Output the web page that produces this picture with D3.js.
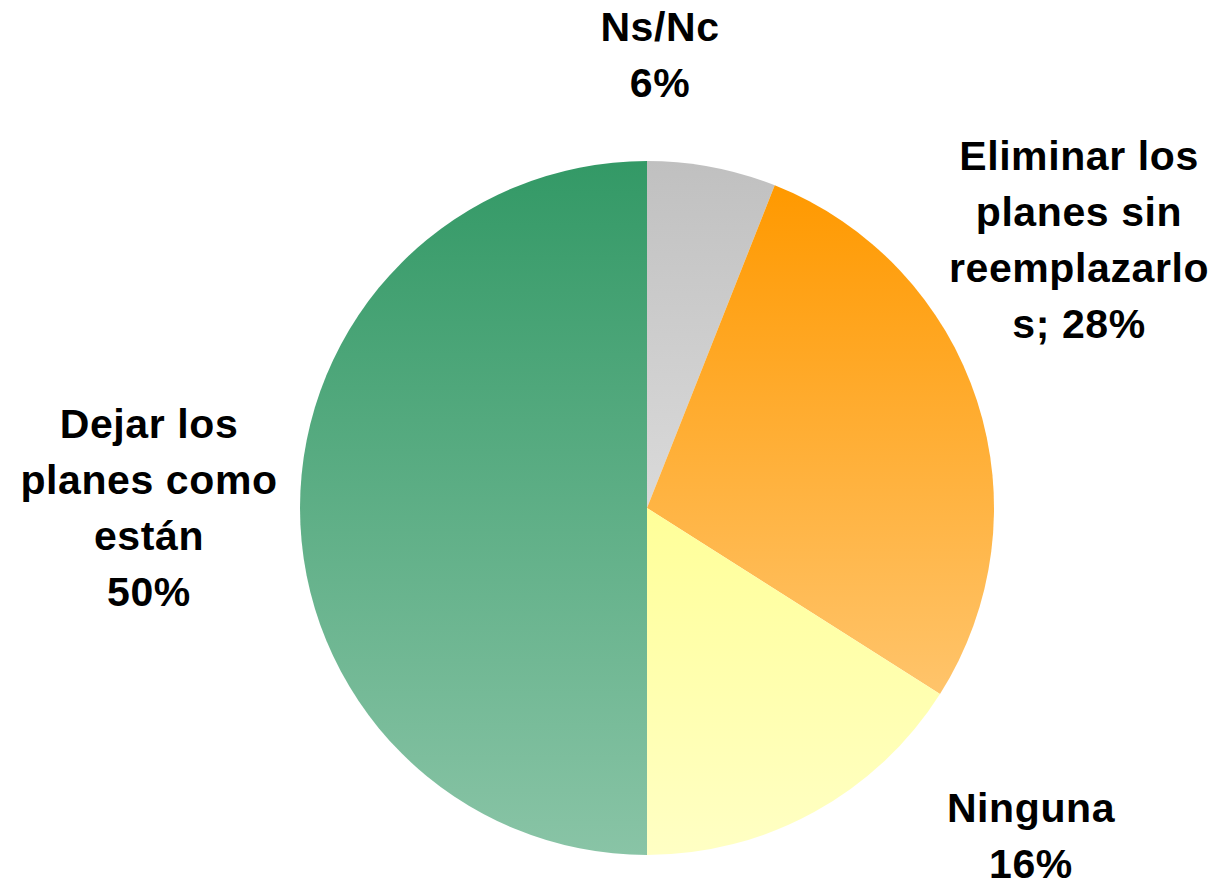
<html>
<head>
    <meta charset="utf-8">
    <title>Planes - pie</title>
    <script src="https://d3js.org/d3.v7.min.js" charset="utf-8"></script>
    <style>
        body { margin: 0; background: #fff; }
        text { font-family: "Liberation Sans", Arial, sans-serif; font-weight: bold; fill: #000; }
    </style>
</head>
<body>
<script>

    // data, clockwise from 12 o'clock
    const categories = ["Ns/Nc", "Eliminar los planes sin reemplazarlos", "Ninguna", "Dejar los planes como están"];
    const values = [6, 28, 16, 50];
    const colors = ["#c0c0c0", "#ff9900", "#ffff99", "#339966"];
    // label text, line by line, as the chart wraps it
    const labelLines = [
        ["Ns/Nc", "6%"],
        ["Eliminar los", "planes sin", "reemplazarlo", "s; 28%"],
        ["Ninguna", "16%"],
        ["Dejar los", "planes como", "están", "50%"]
    ];

    const width = 1218;
    const height = 886;
    const cx = 647;
    const cy = 508;
    const radius = 347;
    const fontSize = 41;
    const lineHeight = 56;

    // where each label block sits (first baseline), relative to the pie centre
    const labelAnchor = [
        [13, -467],
        [432, -338],
        [384, 314],
        [-498, -70]
    ];

    const svg = d3.select("body").append("svg")
        .attr("width", width)
        .attr("height", height);

    const defs = svg.append("defs");

    colors.forEach((c, i) => {
        const g = defs.append("linearGradient")
            .attr("id", "grad" + i)
            .attr("x1", 0).attr("y1", 0)
            .attr("x2", 0).attr("y2", 1);
        g.append("stop").attr("offset", "0%").attr("stop-color", c);
        g.append("stop").attr("offset", "100%")
            .attr("stop-color", d3.interpolateRgb(c, "#ffffff")(0.42));
    });

    const pie = d3.pie()
        .value(d => d)
        .sort(null);

    const arc = d3.arc()
        .innerRadius(0)
        .outerRadius(radius);

    const g = svg.append("g")
        .attr("transform", `translate(${cx},${cy})`);

    g.selectAll("path")
        .data(pie(values))
        .enter()
        .append("path")
        .attr("d", arc)
        .attr("fill", (d, i) => `url(#grad${i})`);

    const labels = g.selectAll("text")
        .data(labelLines)
        .enter()
        .append("text")
        .attr("text-anchor", "middle")
        .attr("font-size", fontSize)
        .attr("letter-spacing", 0.6)
        .attr("x", (d, i) => labelAnchor[i][0])
        .attr("y", (d, i) => labelAnchor[i][1]);

    labels.selectAll("tspan")
        .data(d => d)
        .enter()
        .append("tspan")
        .attr("x", function () { return d3.select(this.parentNode).attr("x"); })
        .attr("dy", (d, j) => j === 0 ? 0 : lineHeight)
        .text(d => d);

</script>
</body>
</html>
